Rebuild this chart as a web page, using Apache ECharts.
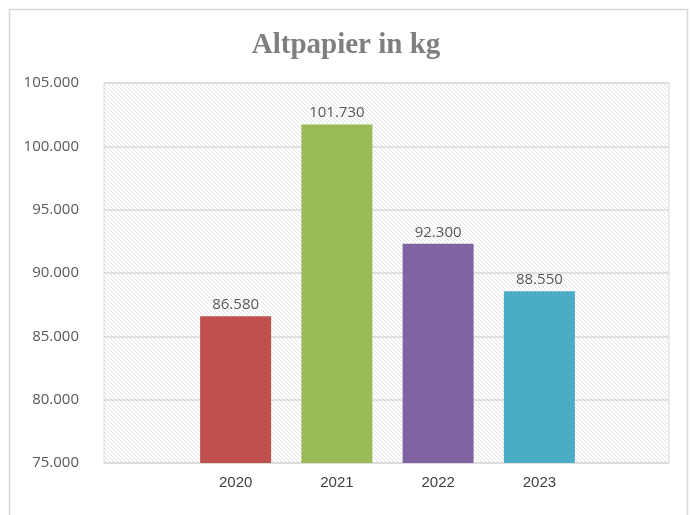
<!DOCTYPE html>
<html>
<head>
<meta charset="utf-8">
<script src="https://cdn.jsdelivr.net/npm/echarts@6/dist/echarts.min.js"></script>
<style>html,body{margin:0;padding:0;background:#fff;}#c{width:692px;height:515px;}</style>
</head>
<body>
<div id="c"></div>
<script>
const categories = ['2020', '2021', '2022', '2023'];
const values = [86580, 101730, 92300, 88550];
const colors = ['#C0504D', '#9BBB59', '#8064A2', '#4BACC6'];
const yMin = 75000, yMax = 105000, yStep = 5000;
const titleText = 'Altpapier in kg';

function fmt(v) {
  return String(Math.round(v)).replace(/\B(?=(\d{3})+(?!\d))/g, '.');
}

// hatch pattern (pixel-stepped diagonal, top-left to bottom-right)
const pc = document.createElement('canvas');
pc.width = 4; pc.height = 4;
const g = pc.getContext('2d');
g.fillStyle = '#ffffff'; g.fillRect(0, 0, 4, 4);
g.fillStyle = '#e1e1e1';
for (let i = 0; i < 4; i++) g.fillRect(i, i, 1, 1);

const chart = echarts.init(document.getElementById('c'), null, {renderer: 'canvas'});
chart.setOption({
  animation: false,
  backgroundColor: '#fff',
  title: {
    text: titleText, left: 'center', top: 26,
    textStyle: {fontFamily: 'Liberation Serif', fontWeight: 'bold', fontSize: 29, color: '#7f7f7f'}
  },
  graphic: [{
    type: 'rect', shape: {x: 9.5, y: 9.5, width: 678, height: 520},
    style: {fill: 'none', stroke: '#d9d9d9', lineWidth: 1.5}, z: -10, silent: true
  }],
  grid: [
    {left: 104, right: 23, top: 83, bottom: 52, show: true,
     backgroundColor: {image: pc, repeat: 'repeat'}, borderColor: '#d9d9d9', borderWidth: 1},
    {left: 185, right: 102, top: 83, bottom: 52}
  ],
  xAxis: [
    {gridIndex: 0, type: 'category', data: [''], show: false},
    {gridIndex: 1, type: 'category', data: categories,
     axisLine: {show: false}, axisTick: {show: false},
     axisLabel: {margin: 12, fontFamily: 'Liberation Sans Narrow, Liberation Sans', fontSize: 15, color: '#404040'}}
  ],
  yAxis: [
    {gridIndex: 0, type: 'value', min: yMin, max: yMax, interval: yStep,
     axisLine: {show: false}, axisTick: {show: false},
     splitLine: {lineStyle: {color: '#d9d9d9', width: 1.5}},
     axisLabel: {margin: 25, fontFamily: 'Open Sans', fontSize: 15, color: '#595959', formatter: fmt}},
    {gridIndex: 1, type: 'value', min: yMin, max: yMax, interval: yStep, show: false}
  ],
  series: [{
    type: 'bar', xAxisIndex: 1, yAxisIndex: 1,
    barWidth: 71,
    data: values.map((v, i) => ({value: v, itemStyle: {color: colors[i]}})),
    label: {show: true, position: 'top', distance: 4, fontFamily: 'Open Sans', fontSize: 15, color: '#595959',
            formatter: p => fmt(p.value)}
  }]
});
</script>
</body>
</html>
